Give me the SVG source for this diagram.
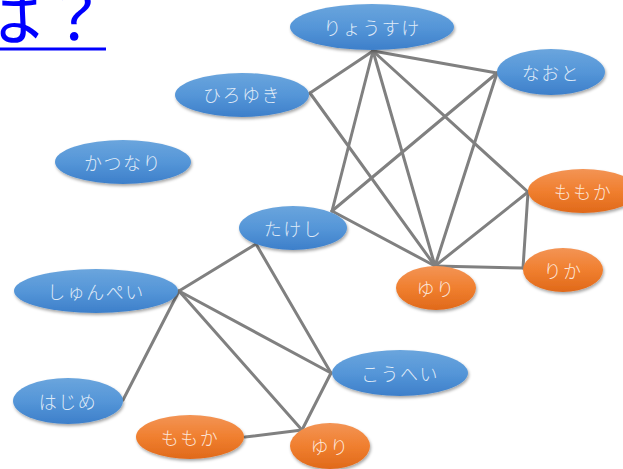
<svg xmlns="http://www.w3.org/2000/svg" width="623" height="469" viewBox="0 0 623 469">
  <style>
    .title { font-family: "Noto Sans CJK JP", "Noto Sans", sans-serif; font-size: 66px; fill: #0000ff; }
    .edge { stroke: #808080; stroke-width: 3; stroke-linecap: round; fill: none; }
    .blue ellipse { fill: url(#gBlue); filter: url(#shadow); }
    .orange ellipse { fill: url(#gOrange); filter: url(#shadow); }
    .label { font-family: "Noto Sans CJK JP", "Noto Sans", sans-serif; font-size: 18px; font-weight: 300; letter-spacing: 1.5px; fill: #ffffff; fill-opacity: 0.82; text-anchor: middle; dominant-baseline: central; }
  </style>
  <defs>
    <linearGradient id="gBlue" x1="0" y1="0" x2="0" y2="1">
      <stop offset="0" stop-color="#6aa5dd"/>
      <stop offset="0.5" stop-color="#5596d8"/>
      <stop offset="1" stop-color="#3d7fca"/>
    </linearGradient>
    <linearGradient id="gOrange" x1="0" y1="0" x2="0" y2="1">
      <stop offset="0" stop-color="#f39455"/>
      <stop offset="0.5" stop-color="#f07f2f"/>
      <stop offset="1" stop-color="#e0691a"/>
    </linearGradient>
    <filter id="shadow" x="-10%" y="-20%" width="120%" height="150%">
      <feDropShadow dx="1" dy="2" stdDeviation="1.5" flood-color="#000" flood-opacity="0.35"/>
    </filter>
  </defs>

  <rect width="623" height="469" fill="#ffffff"/>

  <!-- heading, partly running off the left edge -->
  <g id="heading">
    <text class="title" x="-24" y="40">は？</text>
    <rect x="0" y="47.5" width="106" height="3" fill="#0000ff"/>
  </g>

  <!-- connectors -->
  <g id="edges">
    <line class="edge" x1="373" y1="51" x2="310" y2="93"/>
    <line class="edge" x1="373" y1="51" x2="497" y2="73"/>
    <line class="edge" x1="373" y1="51" x2="332" y2="211"/>
    <line class="edge" x1="373" y1="51" x2="435" y2="266"/>
    <line class="edge" x1="373" y1="51" x2="528" y2="192"/>
    <line class="edge" x1="310" y1="93" x2="435" y2="266"/>
    <line class="edge" x1="497" y1="73" x2="332" y2="211"/>
    <line class="edge" x1="497" y1="73" x2="435" y2="266"/>
    <line class="edge" x1="332" y1="211" x2="435" y2="266"/>
    <line class="edge" x1="528" y1="192" x2="435" y2="266"/>
    <line class="edge" x1="528" y1="192" x2="523" y2="268"/>
    <line class="edge" x1="523" y1="268" x2="435" y2="266"/>
    <line class="edge" x1="179" y1="291" x2="256" y2="244"/>
    <line class="edge" x1="179" y1="291" x2="123" y2="400"/>
    <line class="edge" x1="179" y1="291" x2="331" y2="373"/>
    <line class="edge" x1="179" y1="291" x2="302" y2="430"/>
    <line class="edge" x1="256" y1="244" x2="331" y2="373"/>
    <line class="edge" x1="331" y1="373" x2="302" y2="430"/>
    <line class="edge" x1="245" y1="437" x2="302" y2="430"/>
  </g>

  <!-- people -->
  <g id="ryousuke" class="blue">
    <ellipse cx="372" cy="27" rx="82" ry="23"/>
    <text class="label" x="372" y="27">りょうすけ</text>
  </g>
  <g id="naoto" class="blue">
    <ellipse cx="551" cy="72" rx="54" ry="23"/>
    <text class="label" x="551" y="72">なおと</text>
  </g>
  <g id="hiroyuki" class="blue">
    <ellipse cx="242" cy="95" rx="67" ry="22"/>
    <text class="label" x="242" y="94">ひろゆき</text>
  </g>
  <g id="katsunari" class="blue">
    <ellipse cx="123" cy="162" rx="68" ry="22"/>
    <text class="label" x="123" y="162">かつなり</text>
  </g>
  <g id="takeshi" class="blue">
    <ellipse cx="293" cy="228" rx="54" ry="22"/>
    <text class="label" x="293" y="228">たけし</text>
  </g>
  <g id="shunpei" class="blue">
    <ellipse cx="96" cy="291" rx="82" ry="22"/>
    <text class="label" x="96" y="291">しゅんぺい</text>
  </g>
  <g id="hajime" class="blue">
    <ellipse cx="68" cy="401" rx="55" ry="23"/>
    <text class="label" x="68" y="401">はじめ</text>
  </g>
  <g id="kouhei" class="blue">
    <ellipse cx="400" cy="373" rx="68" ry="23"/>
    <text class="label" x="400" y="373">こうへい</text>
  </g>
  <g id="yuri1" class="orange">
    <ellipse cx="436" cy="288" rx="40" ry="22"/>
    <text class="label" x="436" y="288">ゆり</text>
  </g>
  <g id="momoka1" class="orange">
    <ellipse cx="583" cy="191" rx="55" ry="22"/>
    <text class="label" x="583" y="191">ももか</text>
  </g>
  <g id="rika" class="orange">
    <ellipse cx="563" cy="270" rx="40" ry="22"/>
    <text class="label" x="563" y="270">りか</text>
  </g>
  <g id="momoka2" class="orange">
    <ellipse cx="190" cy="437" rx="54" ry="22"/>
    <text class="label" x="190" y="437">ももか</text>
  </g>
  <g id="yuri2" class="orange">
    <ellipse cx="330" cy="446" rx="40" ry="23"/>
    <text class="label" x="330" y="446">ゆり</text>
  </g>
</svg>
